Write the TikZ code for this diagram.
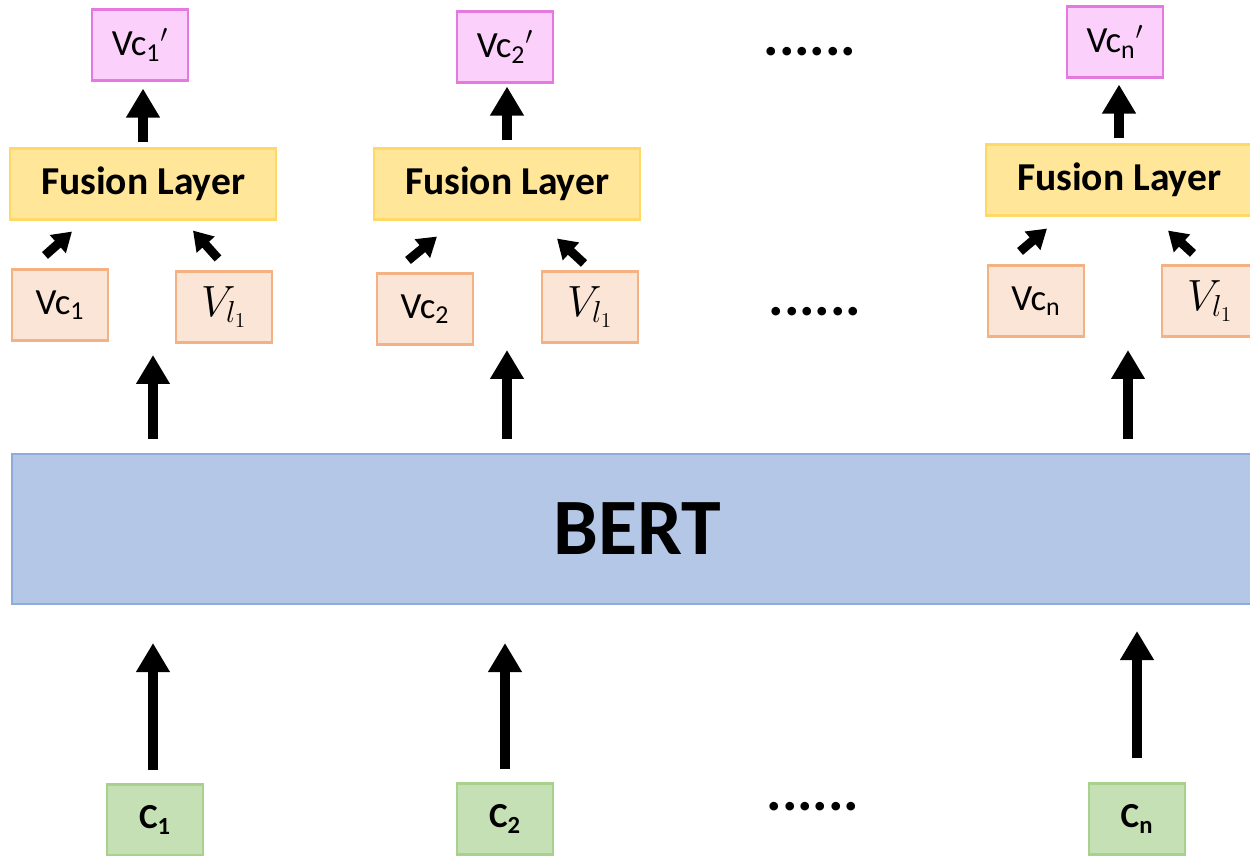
\documentclass[tikz,border=0pt]{standalone}
\usepackage{fontspec}
\setmainfont{Carlito}
\usetikzlibrary{arrows.meta, calc}

\definecolor{outfill}{RGB}{251,208,250}
\definecolor{outedge}{RGB}{228,122,224}
\definecolor{fusfill}{RGB}{255,230,153}
\definecolor{fusedge}{RGB}{255,217,102}
\definecolor{vecfill}{RGB}{251,229,214}
\definecolor{vecedge}{RGB}{244,177,131}
\definecolor{bertfill}{RGB}{180,199,231}
\definecolor{bertedge}{RGB}{143,170,220}
\definecolor{tokfill}{RGB}{197,224,180}
\definecolor{tokedge}{RGB}{169,209,142}

\begin{document}
\begin{tikzpicture}[x=0.02cm, y=-0.02cm,
    box/.style={draw, line width=1.2pt, inner sep=0pt, minimum width=1.92cm, minimum height=1.42cm, font=\fontsize{21}{24}\selectfont},
    outbox/.style={box, draw=outedge, fill=outfill},
    vecbox/.style={box, draw=vecedge, fill=vecfill},
    tokbox/.style={box, draw=tokedge, fill=tokfill, font=\fontsize{20}{24}\selectfont\bfseries},
    fusion/.style={draw=fusedge, fill=fusfill, line width=1.2pt, minimum width=5.32cm, minimum height=1.42cm, font=\fontsize{22.5}{26}\selectfont\bfseries},
    flow/.style={line width=0.2cm, -{Triangle[width=0.64cm, length=0.58cm]}},
    mix/.style={line width=0.18cm, -{Triangle[width=0.46cm, length=0.38cm]}},
    more/.style={inner sep=0pt, font=\fontsize{33}{36}\selectfont\bfseries}
]
    \useasboundingbox (0,0) rectangle (1250,855);
    \clip (0,0) rectangle (1250,855);

    % outputs
    \node[outbox] (vcp1) at (140,45) {Vc\textsubscript{1}$'$};
    \node[outbox] (vcp2) at (505,47) {Vc\textsubscript{2}$'$};
    \node[outbox] (vcpn) at (1115,42) {Vc\textsubscript{n}$'$};
    \node[more] (dots1) at (810,52) {......};

    % fusion layers
    \node[fusion] (fus1) at (143,184) {Fusion Layer};
    \node[fusion] (fus2) at (507,184) {Fusion Layer};
    \node[fusion] (fusn) at (1119,180) {Fusion Layer};

    % fusion inputs
    \node[vecbox] (vc1) at (60,305) {Vc\textsubscript{1}};
    \node[vecbox, font=\fontsize{25}{28}\selectfont] (vl1) at (224,307) {$V_{l_1}$};
    \node[vecbox] (vc2) at (425,309) {Vc\textsubscript{2}};
    \node[vecbox, font=\fontsize{25}{28}\selectfont] (vl2) at (590,307) {$V_{l_1}$};
    \node[vecbox] (vcn) at (1036,301) {Vc\textsubscript{n}};
    \node[vecbox, font=\fontsize{25}{28}\selectfont] (vln) at (1210,301) {$V_{l_1}$};
    \node[more] (dots2) at (815,312) {......};

    \node[draw=bertedge, fill=bertfill, line width=1.2pt, minimum width=25cm, minimum height=3cm,
          font=\fontsize{45.5}{50}\selectfont\bfseries] (bert) at (637,529) {BERT};

    % tokens
    \node[tokbox] (c1) at (155,820) {C\textsubscript{1}};
    \node[tokbox] (c2) at (505,819) {C\textsubscript{2}};
    \node[tokbox] (cn) at (1137,819) {C\textsubscript{n}};
    \node[more] (dots3) at (813,807) {......};

    \coordinate (in1) at (153,355);
    \coordinate (in2) at (507,350);
    \coordinate (inn) at (1128,350);

    \draw[flow, shorten <=0.1cm, shorten >=0.14cm] (fus1.north) -- (fus1.north |- vcp1.south);
    \draw[flow, shorten <=0.14cm, shorten >=0.06cm] (fus2.north) -- (fus2.north |- vcp2.south);
    \draw[flow, shorten <=0.1cm, shorten >=0.12cm] (fusn.north) -- (fusn.north |- vcpn.south);

    \draw[mix] ([shift={(-15,-13)}]vc1.north) -- ([shift={(12,11)}]vc1.north |- fus1.south);
    \draw[mix] ([shift={(-6,-12)}]vl1.north) -- ([shift={(-31,10)}]vl1.north |- fus1.south);
    \draw[mix] ([shift={(-17,-12)}]vc2.north) -- ([shift={(12,16)}]vc2.north |- fus2.south);
    \draw[mix] ([shift={(-6,-7)}]vl2.north) -- ([shift={(-33,18)}]vl2.north |- fus2.south);
    \draw[mix] ([shift={(-16,-13)}]vcn.north) -- ([shift={(11,12)}]vcn.north |- fusn.south);
    \draw[mix] ([shift={(-17,-11)}]vln.north) -- ([shift={(-42,14)}]vln.north |- fusn.south);

    \draw[flow, shorten <=0.28cm] (bert.north -| in1) -- (in1);
    \draw[flow, shorten <=0.28cm] (bert.north -| in2) -- (in2);
    \draw[flow, shorten <=0.28cm] (bert.north -| inn) -- (inn);

    \draw[flow, shorten <=0.26cm, shorten >=0.76cm] ([xshift=-0.04cm]c1.north) -- ([xshift=-0.04cm]c1.north |- bert.south);
    \draw[flow, shorten <=0.26cm, shorten >=0.76cm] (c2.north) -- (c2.north |- bert.south);
    \draw[flow, shorten <=0.48cm, shorten >=0.52cm] (cn.north) -- (cn.north |- bert.south);
\end{tikzpicture}
\end{document}
